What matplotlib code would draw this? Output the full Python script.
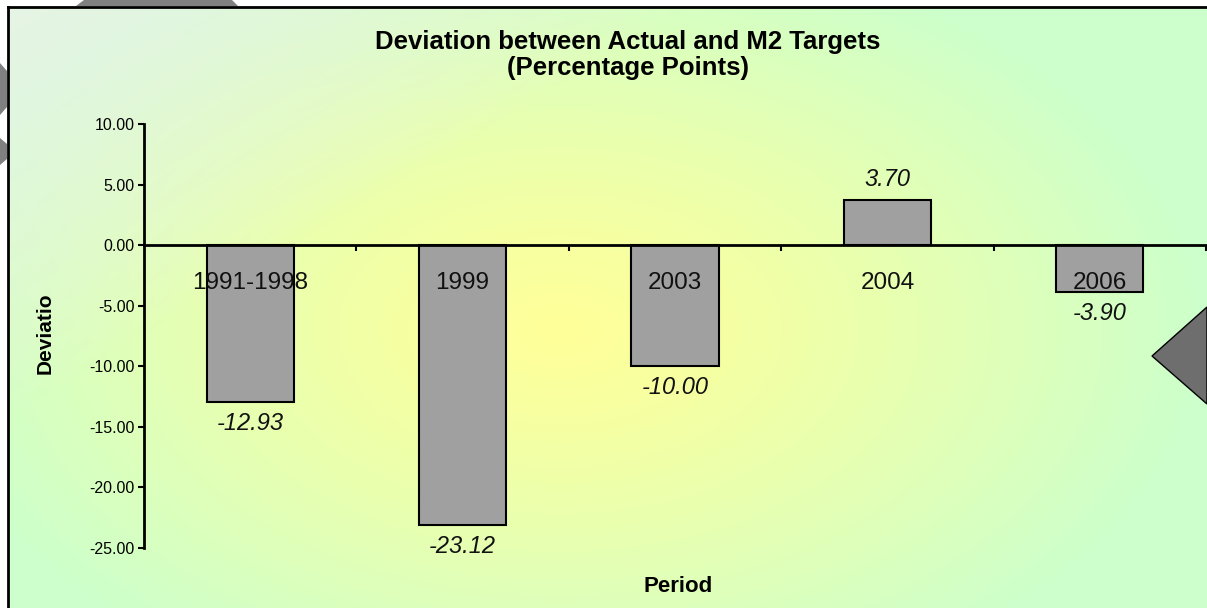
import numpy as np
import matplotlib
matplotlib.use("Agg")
import matplotlib.pyplot as plt
from matplotlib.patches import Polygon
from matplotlib.lines import Line2D

periods = ["1991-1998", "1999", "2003", "2004", "2006"]
deviation = [-12.93, -23.12, -10.00, 3.70, -3.90]
y_ticks = [10, 5, 0, -5, -10, -15, -20, -25]

plt.rcParams["font.family"] = ["Liberation Sans", "DejaVu Sans"]

W, H = 1207, 608
fig = plt.figure(figsize=(W / 100, H / 100), dpi=100)

# background: yellow centre fading to light green, whitish top-left
yy, xx = np.mgrid[0:H, 0:W].astype(float)
r = np.sqrt(((xx - 560) / 650) ** 2 + ((yy - 330) / 400) ** 2)
t = np.clip(r, 0, 1) ** 1.2
yellow = np.array([255, 255, 153]) / 255
green = np.array([204, 255, 204]) / 255
grey = np.array([240, 240, 238]) / 255
img = yellow * (1 - t[..., None]) + green * t[..., None]
g = 0.75 * np.clip(1 - (xx / 700 + yy / 420), 0, 1) ** 0.8
img = img * (1 - g[..., None]) + grey * g[..., None]
img[:7, :] = 1
img[:, :8] = 1
bg = fig.add_axes([0, 0, 1, 1], zorder=-10)
bg.imshow(img, aspect="auto", extent=(0, W, H, 0))
bg.set_xlim(0, W)
bg.set_ylim(H, 0)
bg.axis("off")

# stray grey shapes around the edge
bg.add_patch(Polygon([(76, 6), (238, 6), (232, 0), (84, 0)], facecolor="#808080", edgecolor="none"))
bg.add_patch(Polygon([(0, 63), (7, 71), (7, 107), (0, 115)], facecolor="#808080", edgecolor="none"))
bg.add_patch(Polygon([(0, 138), (7, 144), (7, 159), (0, 165)], facecolor="#808080", edgecolor="none"))
bg.add_patch(Polygon([(W, 307), (1152, 356), (W, 404)], facecolor="#6e6e6e",
                     edgecolor="black", lw=1))

# chart border (right and bottom edges are outside the picture)
bg.add_line(Line2D([8, 8], [7, H], color="black", lw=2, zorder=5))
bg.add_line(Line2D([8, W], [7, 7], color="black", lw=2, zorder=5))

# plot area
left, right, top, bottom = 144, 1206, 124, 548
ax = fig.add_axes([left / W, 1 - bottom / H, (right - left) / W, (bottom - top) / H])
ax.patch.set_alpha(0)

x = np.arange(len(periods))
bars = ax.bar(x, deviation, width=0.41, color="#a0a0a0", edgecolor="black", lw=1.5)
ax.bar_label(bars, labels=[f"{v:.2f}" for v in deviation], padding=7,
             fontsize=17, fontstyle="italic", color="#111111")

ax.set_xlim(-0.5, len(periods) - 0.5)
ax.set_ylim(-25, 10)
ax.set_yticks(y_ticks)
ax.set_yticklabels([f"{v:.2f}" for v in y_ticks], fontsize=11.5)

ax.spines["top"].set_visible(False)
ax.spines["right"].set_visible(False)
ax.spines["bottom"].set_position(("data", 0))
ax.spines["left"].set_linewidth(2)
ax.spines["bottom"].set_linewidth(2)

ax.set_xticks(x)
ax.set_xticklabels(periods, fontsize=17.5, color="#111111")
ax.tick_params(axis="x", which="major", length=0, pad=19)
ax.set_xticks(np.arange(0.5, len(periods)), minor=True)
ax.tick_params(axis="x", which="minor", length=4, width=1.5, direction="out")
ax.tick_params(axis="y", length=4, width=1.5, pad=3)

ax.set_xlabel("Period", fontsize=16, fontweight="bold")
ax.xaxis.set_label_coords(0.503, -0.065)

fig.text(45 / W, 1 - 333 / H, "Deviatio", rotation=90, ha="center", va="center",
         fontsize=15, fontweight="bold")
fig.text(628 / W, 1 - 55 / H, "Deviation between Actual and M2 Targets\n(Percentage Points)",
         ha="center", va="center", fontsize=18.5, fontweight="bold", linespacing=1.13,
         multialignment="center")

fig.savefig("out.png", dpi=100)
